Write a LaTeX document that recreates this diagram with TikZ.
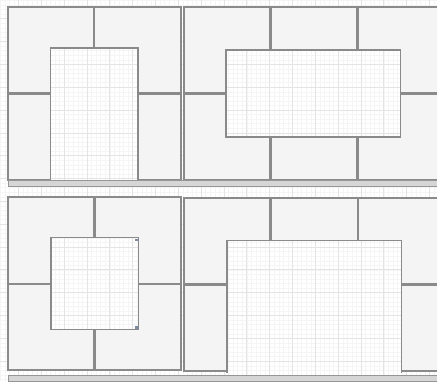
\documentclass[tikz,border=0pt]{standalone}
\definecolor{minorgrid}{HTML}{F5F5F5}
\definecolor{majorgrid}{HTML}{E4E4E4}
\definecolor{tilefill}{HTML}{F4F4F4}
\definecolor{edge}{HTML}{8A8A8A}
\definecolor{barfill}{HTML}{D6D6D6}
\definecolor{handle}{HTML}{7D8CA0}
\tikzset{
  tile/.style={fill=tilefill, draw=edge, line width=1.1pt},
  panel/.style={draw=edge, line width=1.5pt},
  hole/.style={draw=edge, line width=1.2pt},
  bar/.style={fill=barfill, draw=edge!90, line width=0.8pt},
  mgrid/.style={draw=minorgrid, line width=0.5pt},
  Mgrid/.style={draw=majorgrid, line width=0.7pt},
  handlemark/.style={fill=handle, draw=none}
}
\newcommand{\bggrid}[4]{%
  \foreach \i in {-4,...,100} {
    \pgfmathsetmacro{\gx}{18.5+4.567*\i}
    \pgfmathsetmacro{\gy}{18.7+4.567*\i}
    \draw[mgrid] (\gx,#2) -- (\gx,#4);
    \draw[mgrid] (#1,\gy) -- (#3,\gy);
  }
  \foreach \i in {-1,...,20} {
    \pgfmathsetmacro{\gx}{18.5+22.83*\i}
    \pgfmathsetmacro{\gy}{18.7+22.83*\i}
    \draw[Mgrid] (\gx,#2) -- (\gx,#4);
    \draw[Mgrid] (#1,\gy) -- (#3,\gy);
  }
}
\begin{document}
\begin{tikzpicture}[x=1pt,y=-1pt]
\useasboundingbox (0,0) rectangle (437,381);
\clip (0,0) rectangle (437,381);
\fill[white] (0,0) rectangle (437,381);
\bggrid{0}{0}{437}{381}

% ---------- top-left panel ----------
\draw[tile] (8.5,7.5) rectangle (93.5,93);
\draw[tile] (94.5,7.5) rectangle (180.5,93);
\draw[tile] (8.5,94) rectangle (93.5,179.5);
\draw[tile] (94.5,94) rectangle (180.5,179.5);
\draw[panel] (8,7) rectangle (181,180);
\begin{scope}
  \clip (50.5,48) rectangle (138,180.5);
  \fill[white] (50.5,48) rectangle (138,180.5);
  \bggrid{50}{47}{139}{181}
\end{scope}
\draw[hole] (50.5,180) -- (50.5,48) -- (138,48) -- (138,180);

% ---------- top-right panel ----------
\draw[tile] (184,7.5) rectangle (270,93);
\draw[tile] (271,7.5) rectangle (357,93);
\draw[tile] (358,7.5) rectangle (446,93);
\draw[tile] (184,94) rectangle (270,179.5);
\draw[tile] (271,94) rectangle (357,179.5);
\draw[tile] (358,94) rectangle (446,179.5);
\draw[panel] (183.5,7) rectangle (447,180);
\begin{scope}
  \clip (226,50) rectangle (400.5,137);
  \fill[white] (226,50) rectangle (400.5,137);
  \bggrid{225}{49}{402}{138}
\end{scope}
\draw[hole] (226,50) rectangle (400.5,137);

% ---------- top bar ----------
\draw[bar] (8,180.5) rectangle (440,186);

% ---------- bottom-left panel ----------
\draw[tile] (8.5,197.5) rectangle (94,283.5);
\draw[tile] (95,197.5) rectangle (181,283.5);
\draw[tile] (8.5,284.5) rectangle (94,370);
\draw[tile] (95,284.5) rectangle (181,370);
\draw[panel] (8,197) rectangle (181.5,370.5);
\begin{scope}
  \clip (51,237.5) rectangle (138.5,329.5);
  \fill[white] (51,237.5) rectangle (138.5,329.5);
  \bggrid{50}{236}{140}{331}
\end{scope}
\draw[hole] (51,237.5) rectangle (138.5,329.5);
\fill[handlemark] (135.3,238.6) rectangle (137.5,240.8);
\fill[handlemark] (135.3,326.3) rectangle (137.5,328.5);

% ---------- bottom-right panel ----------
\draw[tile] (184,198) rectangle (270,284);
\draw[tile] (271,198) rectangle (357.5,284);
\draw[tile] (358.5,198) rectangle (446,284);
\draw[tile] (184,285) rectangle (270,370.5);
\draw[tile] (271,285) rectangle (357.5,370.5);
\draw[tile] (358.5,285) rectangle (446,370.5);
\draw[panel] (183.5,197.5) rectangle (447,371);
\begin{scope}
  \clip (227,240.5) rectangle (401.5,375);
  \fill[white] (227,240.5) rectangle (401.5,375);
  \bggrid{226}{239}{403}{376}
\end{scope}
\draw[hole] (227,372.5) -- (227,240.5) -- (401.5,240.5) -- (401.5,372.5);

% ---------- bottom bar ----------
\draw[bar] (8,375.5) rectangle (440,381);
\end{tikzpicture}
\end{document}
